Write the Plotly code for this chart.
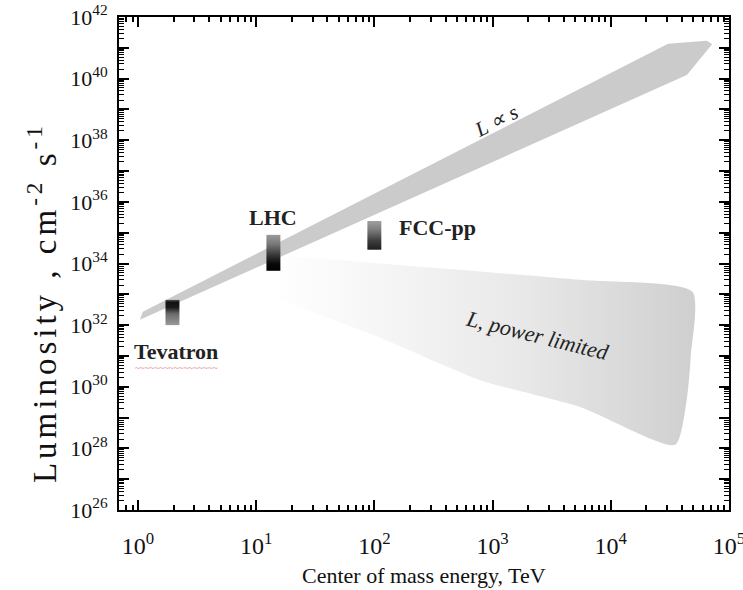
import numpy as np
import plotly.graph_objects as go

# ---------------- data ----------------
# "L ∝ s" band outline (energy in TeV, luminosity in cm^-2 s^-1)
band_energy = [1.04, 1.10, 3.05e4, 6.5e4, 7.2e4, 4.4e4]
band_lumi   = [1.5e32, 2.7e32, 1.35e41, 1.7e41, 1.3e41, 1.3e40]

# "L, power limited" wedge outline
wedge_energy = [13.6, 5.5e3, 4.9e4, 4.75e4, 4.4e4, 3.5e4, 5.5e3, 800, 120, 13.6]
wedge_lumi   = [1.9e34, 2.95e33, 1.2e33, 1.0e31, 4.0e29, 1.3e28, 2.2e29, 1.6e30, 3.5e31, 8.3e32]

# colliders: centre-of-mass energy and luminosity span
colliders   = ["Tevatron", "LHC", "FCC-pp"]
coll_energy = [1.96, 14, 100]
coll_lumi_lo = [1.0e32, 5.8e33, 2.8e34]
coll_lumi_hi = [6.6e32, 8.5e34, 2.4e35]

# axis ticks
x_major = [10.0**d for d in range(0, 6)]
x_major_text = [f"10<sup>{d}</sup>" for d in range(0, 6)]
y_major = [10.0**d for d in range(26, 43)]
y_major_text = [f"10<sup>{d}</sup>" if d % 2 == 0 else "" for d in range(26, 43)]

# ---------------- styles ----------------
FONT = "Liberation Serif"
BOX_HALF = 10 ** 0.059   # half width of collider boxes (multiplicative, log axis)
coll_scales = {
    "Tevatron": [[0, "#9a9a9a"], [0.45, "#6a6a6a"], [0.7, "#1a1a1a"], [0.9, "#111111"], [1, "#555555"]],
    "LHC":      [[0, "#000000"], [0.2, "#0a0a0a"], [0.45, "#3a3a3a"], [0.75, "#7a7a7a"], [1, "#9a9a9a"]],
    "FCC-pp":   [[0, "#1e1e1e"], [0.3, "#3c3c3c"], [0.7, "#7e7e7e"], [1, "#a0a0a0"]],
}

fig = go.Figure()

# power limited wedge (horizontal gradient, white -> grey)
fig.add_trace(go.Scatter(
    x=wedge_energy, y=wedge_lumi, mode="lines", line=dict(width=0, shape="spline", smoothing=0.6),
    fill="toself",
    fillgradient=dict(type="horizontal",
                      colorscale=[[0, "#ffffff"], [0.25, "#f6f6f6"], [0.6, "#e8e8e8"], [1, "#cfcfcf"]]),
    hoverinfo="skip", showlegend=False))

# L ∝ s band
fig.add_trace(go.Scatter(
    x=band_energy, y=band_lumi, mode="lines", line=dict(width=0),
    fill="toself", fillcolor="#cbcbcb", hoverinfo="skip", showlegend=False))

# collider boxes
for name, e, lo, hi in zip(colliders, coll_energy, coll_lumi_lo, coll_lumi_hi):
    xs = [e / BOX_HALF, e * BOX_HALF, e * BOX_HALF, e / BOX_HALF, e / BOX_HALF]
    ys = [lo, lo, hi, hi, lo]
    fig.add_trace(go.Scatter(
        x=xs, y=ys, mode="lines", line=dict(width=0), fill="toself",
        fillgradient=dict(type="vertical", colorscale=coll_scales[name]),
        hoverinfo="skip", showlegend=False, name=name))

# labels
lbl = dict(family=FONT, size=22, color="#222222")
fig.add_annotation(x=np.log10(14), y=np.log10(3.2e35), text="<b>LHC</b>",
                   showarrow=False, font=lbl, xanchor="center", yanchor="middle")
fig.add_annotation(x=np.log10(156), y=np.log10(1.45e35), text="<b>FCC-pp</b>",
                   showarrow=False, font=lbl, xanchor="left", yanchor="middle")
fig.add_annotation(x=np.log10(2.1), y=np.log10(1.35e31), text="<b>Tevatron</b>",
                   showarrow=False, font=lbl, xanchor="center", yanchor="middle")
# red spell-check squiggle under "Tevatron"
fig.add_annotation(x=np.log10(2.1), y=np.log10(1.35e31), yshift=-16, text="~" * 17,
                   showarrow=False, xanchor="center", yanchor="middle",
                   font=dict(family=FONT, size=9, color="#e06a6a"))
fig.add_annotation(x=np.log10(1.07e3), y=np.log10(4.3e38), text="<i>L ∝ s</i>",
                   showarrow=False, textangle=-27,
                   font=dict(family=FONT, size=21, color="#222222"))
fig.add_annotation(x=np.log10(2.4e3), y=np.log10(4.5e31), text="<i>L, power limited</i>",
                   showarrow=False, textangle=14,
                   font=dict(family=FONT, size=22, color="#222222"))

# axis titles
fig.add_annotation(xref="paper", yref="paper", x=-0.126, y=0.42,
                   text='<span style="letter-spacing:4px;">Luminosity , cm<sup>-2</sup> s<sup>-1</sup></span>',
                   textangle=-90, showarrow=False, xanchor="center", yanchor="middle",
                   font=dict(family=FONT, size=33, color="#111111"))
fig.add_annotation(xref="paper", yref="paper", x=0.5, y=-0.132,
                   text="Center of mass energy, TeV", showarrow=False,
                   xanchor="center", yanchor="middle",
                   font=dict(family=FONT, size=22, color="#111111"))

x_minor = [k * 10.0**d for d in range(-1, 5) for k in range(2, 10)]
y_minor = [k * 10.0**d for d in range(26, 42) for k in range(2, 10)]

axis_common = dict(showgrid=False, zeroline=False, showline=True, linecolor="black",
                   linewidth=2, ticks="inside", mirror="allticks", tickcolor="black",
                   tickwidth=1.5, tickmode="array", automargin=False,
                   ticklabeloverflow="allow")

fig.update_xaxes(type="log", range=[-0.16, 5.0], tickvals=x_major, ticktext=x_major_text,
                 ticklen=10, ticklabelstandoff=13,
                 tickfont=dict(family=FONT, size=24, color="#111111"),
                 minor=dict(tickmode="array", tickvals=x_minor, ticks="inside",
                            ticklen=5, tickcolor="black", tickwidth=1.5, showgrid=False),
                 **axis_common)
fig.update_yaxes(type="log", range=[26, 42], tickvals=y_major, ticktext=y_major_text,
                 ticklen=10, ticklabelstandoff=5,
                 tickfont=dict(family=FONT, size=22, color="#111111"),
                 minor=dict(tickmode="array", tickvals=y_minor, ticks="inside",
                            ticklen=5, tickcolor="black", tickwidth=1.2, showgrid=False),
                 **axis_common)

fig.update_layout(width=743, height=590, margin=dict(l=119, r=14, t=17, b=80),
                  paper_bgcolor="white", plot_bgcolor="white", showlegend=False)

# remove the default 8px page margin so the figure fills the window exactly
fig.write_html("out.html", config={"displayModeBar": False},
               post_script="document.body.style.margin='0';document.body.style.overflow='hidden';")
